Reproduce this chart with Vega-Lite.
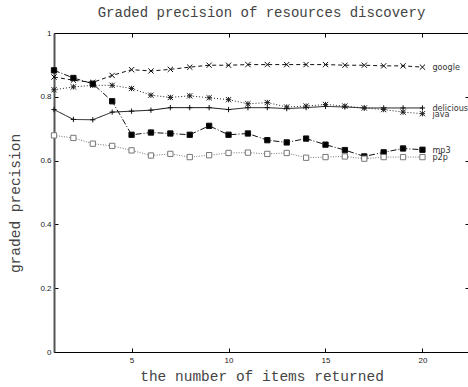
{
  "$schema": "https://vega.github.io/schema/vega-lite/v6.json",
  "width": 415,
  "height": 319,
  "autosize": {"type": "none"},
  "padding": {"left": 54, "top": 33, "right": 0, "bottom": 35},
  "background": "white",
  "title": {"text": "Graded precision of resources discovery", "font": "Liberation Mono", "fontSize": 14, "fontWeight": "normal", "color": "#444", "offset": 9},
  "config": {
    "view": {"stroke": "black", "strokeWidth": 1},
    "axis": {"grid": false, "labelFont": "Liberation Sans", "labelFontSize": 8, "labelColor": "#222", "titleFont": "Liberation Mono", "titleFontSize": 14.5, "titleFontWeight": "normal", "titleColor": "#444", "tickColor": "black", "tickSize": -4, "domainColor": "black"}
  },
  "data": {"values": [
    {"s": "google", "x": 1, "y": 0.862}, {"s": "google", "x": 2, "y": 0.852}, {"s": "google", "x": 3, "y": 0.845}, {"s": "google", "x": 4, "y": 0.867}, {"s": "google", "x": 5, "y": 0.885}, {"s": "google", "x": 6, "y": 0.881}, {"s": "google", "x": 7, "y": 0.886}, {"s": "google", "x": 8, "y": 0.893}, {"s": "google", "x": 9, "y": 0.899}, {"s": "google", "x": 10, "y": 0.899}, {"s": "google", "x": 11, "y": 0.901}, {"s": "google", "x": 12, "y": 0.901}, {"s": "google", "x": 13, "y": 0.901}, {"s": "google", "x": 14, "y": 0.901}, {"s": "google", "x": 15, "y": 0.901}, {"s": "google", "x": 16, "y": 0.899}, {"s": "google", "x": 17, "y": 0.899}, {"s": "google", "x": 18, "y": 0.897}, {"s": "google", "x": 19, "y": 0.897}, {"s": "google", "x": 20, "y": 0.893},
    {"s": "delicious", "x": 1, "y": 0.760}, {"s": "delicious", "x": 2, "y": 0.729}, {"s": "delicious", "x": 3, "y": 0.728}, {"s": "delicious", "x": 4, "y": 0.752}, {"s": "delicious", "x": 5, "y": 0.755}, {"s": "delicious", "x": 6, "y": 0.758}, {"s": "delicious", "x": 7, "y": 0.766}, {"s": "delicious", "x": 8, "y": 0.766}, {"s": "delicious", "x": 9, "y": 0.766}, {"s": "delicious", "x": 10, "y": 0.760}, {"s": "delicious", "x": 11, "y": 0.766}, {"s": "delicious", "x": 12, "y": 0.766}, {"s": "delicious", "x": 13, "y": 0.763}, {"s": "delicious", "x": 14, "y": 0.766}, {"s": "delicious", "x": 15, "y": 0.770}, {"s": "delicious", "x": 16, "y": 0.768}, {"s": "delicious", "x": 17, "y": 0.765}, {"s": "delicious", "x": 18, "y": 0.765}, {"s": "delicious", "x": 19, "y": 0.765}, {"s": "delicious", "x": 20, "y": 0.765},
    {"s": "java", "x": 1, "y": 0.822}, {"s": "java", "x": 2, "y": 0.831}, {"s": "java", "x": 3, "y": 0.836}, {"s": "java", "x": 4, "y": 0.836}, {"s": "java", "x": 5, "y": 0.826}, {"s": "java", "x": 6, "y": 0.805}, {"s": "java", "x": 7, "y": 0.798}, {"s": "java", "x": 8, "y": 0.803}, {"s": "java", "x": 9, "y": 0.797}, {"s": "java", "x": 10, "y": 0.791}, {"s": "java", "x": 11, "y": 0.778}, {"s": "java", "x": 12, "y": 0.782}, {"s": "java", "x": 13, "y": 0.768}, {"s": "java", "x": 14, "y": 0.771}, {"s": "java", "x": 15, "y": 0.776}, {"s": "java", "x": 16, "y": 0.771}, {"s": "java", "x": 17, "y": 0.765}, {"s": "java", "x": 18, "y": 0.760}, {"s": "java", "x": 19, "y": 0.752}, {"s": "java", "x": 20, "y": 0.747},
    {"s": "mp3", "x": 1, "y": 0.883}, {"s": "mp3", "x": 2, "y": 0.859}, {"s": "mp3", "x": 3, "y": 0.841}, {"s": "mp3", "x": 4, "y": 0.786}, {"s": "mp3", "x": 5, "y": 0.681}, {"s": "mp3", "x": 6, "y": 0.688}, {"s": "mp3", "x": 7, "y": 0.685}, {"s": "mp3", "x": 8, "y": 0.681}, {"s": "mp3", "x": 9, "y": 0.709}, {"s": "mp3", "x": 10, "y": 0.681}, {"s": "mp3", "x": 11, "y": 0.685}, {"s": "mp3", "x": 12, "y": 0.664}, {"s": "mp3", "x": 13, "y": 0.657}, {"s": "mp3", "x": 14, "y": 0.669}, {"s": "mp3", "x": 15, "y": 0.650}, {"s": "mp3", "x": 16, "y": 0.633}, {"s": "mp3", "x": 17, "y": 0.613}, {"s": "mp3", "x": 18, "y": 0.626}, {"s": "mp3", "x": 19, "y": 0.638}, {"s": "mp3", "x": 20, "y": 0.634},
    {"s": "p2p", "x": 1, "y": 0.679}, {"s": "p2p", "x": 2, "y": 0.671}, {"s": "p2p", "x": 3, "y": 0.653}, {"s": "p2p", "x": 4, "y": 0.646}, {"s": "p2p", "x": 5, "y": 0.632}, {"s": "p2p", "x": 6, "y": 0.616}, {"s": "p2p", "x": 7, "y": 0.621}, {"s": "p2p", "x": 8, "y": 0.611}, {"s": "p2p", "x": 9, "y": 0.617}, {"s": "p2p", "x": 10, "y": 0.624}, {"s": "p2p", "x": 11, "y": 0.625}, {"s": "p2p", "x": 12, "y": 0.621}, {"s": "p2p", "x": 13, "y": 0.624}, {"s": "p2p", "x": 14, "y": 0.609}, {"s": "p2p", "x": 15, "y": 0.611}, {"s": "p2p", "x": 16, "y": 0.613}, {"s": "p2p", "x": 17, "y": 0.606}, {"s": "p2p", "x": 18, "y": 0.611}, {"s": "p2p", "x": 19, "y": 0.611}, {"s": "p2p", "x": 20, "y": 0.611}
  ]},
  "layer": [
    {
      "mark": {"type": "line", "strokeWidth": 1},
      "encoding": {
        "x": {"field": "x", "type": "quantitative", "scale": {"domain": [1, 22.4], "nice": false, "zero": false}, "axis": {"orient": "bottom", "values": [5, 10, 15, 20], "title": "the number of items returned", "labelPadding": 8, "titlePadding": 5}},
        "y": {"field": "y", "type": "quantitative", "scale": {"domain": [0, 1], "nice": false, "zero": true}, "axis": {"orient": "left", "values": [0, 0.2, 0.4, 0.6, 0.8, 1], "labelExpr": "datum.value", "title": "graded precision", "labelPadding": 7, "titlePadding": 17, "titleY": 170, "domainColor": "#555", "domainWidth": 2}},
        "strokeDash": {"field": "s", "type": "nominal", "scale": {"domain": ["google", "delicious", "java", "mp3", "p2p"], "range": [[4, 3], [1, 0], [1, 2], [6, 2, 1, 2], [1, 1.5]]}, "legend": null},
        "stroke": {"field": "s", "type": "nominal", "scale": {"domain": ["google", "delicious", "java", "mp3", "p2p"], "range": ["#111", "#111", "#222", "#111", "#777"]}, "legend": null}
      }
    },
    {
      "mark": {"type": "point", "filled": false, "strokeWidth": 1, "opacity": 1, "size": 28},
      "encoding": {
        "x": {"field": "x", "type": "quantitative", "axis": {"orient": "top", "values": [5, 10, 15, 20], "labels": false, "title": null, "domain": false}},
        "y": {"field": "y", "type": "quantitative", "axis": {"orient": "right", "values": [0, 0.2, 0.4, 0.6, 0.8, 1], "labels": false, "title": null, "domain": false}},
        "shape": {"field": "s", "type": "nominal", "scale": {"domain": ["google", "delicious", "java", "mp3", "p2p"], "range": ["M-1,-1L1,1M-1,1L1,-1", "M-1,0L1,0M0,-1L0,1", "M-1,-1L1,1M-1,1L1,-1M-1,0L1,0M0,-1L0,1", "square", "square"]}, "legend": null},
        "fill": {"field": "s", "type": "nominal", "scale": {"domain": ["google", "delicious", "java", "mp3", "p2p"], "range": ["transparent", "transparent", "transparent", "#000", "#fff"]}, "legend": null},
        "stroke": {"field": "s", "type": "nominal", "legend": null}
      }
    },
    {
      "transform": [{"filter": "datum.x == 20"}],
      "mark": {"type": "text", "align": "left", "baseline": "middle", "dx": 10, "font": "DejaVu Sans Condensed, Liberation Sans", "fontSize": 9, "color": "#333"},
      "encoding": {
        "x": {"field": "x", "type": "quantitative", "axis": null},
        "y": {"field": "y", "type": "quantitative", "axis": null},
        "text": {"field": "s", "type": "nominal"}
      }
    }
  ],
  "resolve": {"axis": {"x": "independent", "y": "independent"}}
}
